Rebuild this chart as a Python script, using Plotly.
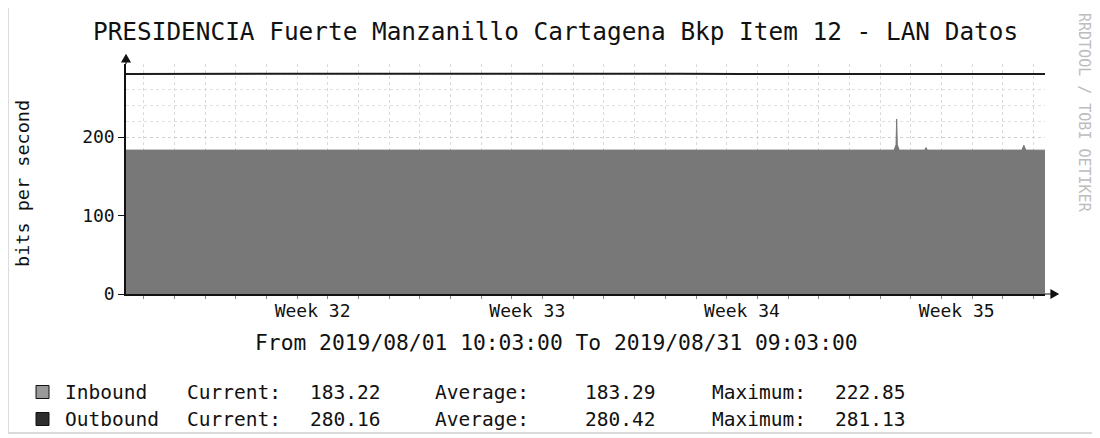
import plotly.graph_objects as go

# ---------------- data ----------------
title_text = "PRESIDENCIA Fuerte Manzanillo Cartagena Bkp Item 12 - LAN Datos"
range_text = "From 2019/08/01 10:03:00 To 2019/08/31 09:03:00"
y_title = "bits per second"
watermark = "RRDTOOL / TOBI OETIKER"

x_start = "2019-08-01 10:03"
x_end = "2019-08-31 09:03"

in_times = [
    "2019-08-01 10:03", "2019-08-02 12:00", "2019-08-03 12:00", "2019-08-04 12:00",
    "2019-08-05 12:00", "2019-08-06 12:00", "2019-08-07 12:00", "2019-08-08 12:00",
    "2019-08-09 12:00", "2019-08-10 12:00", "2019-08-11 12:00", "2019-08-12 12:00",
    "2019-08-13 12:00", "2019-08-14 12:00", "2019-08-15 12:00", "2019-08-16 12:00",
    "2019-08-17 12:00", "2019-08-18 12:00", "2019-08-19 12:00", "2019-08-20 12:00",
    "2019-08-21 12:00", "2019-08-22 12:00", "2019-08-23 12:00", "2019-08-24 12:00",
    "2019-08-25 12:00", "2019-08-26 11:00", "2019-08-26 12:30", "2019-08-26 13:00",
    "2019-08-26 13:30", "2019-08-26 15:00", "2019-08-27 11:00", "2019-08-27 12:00",
    "2019-08-27 13:00", "2019-08-28 12:00", "2019-08-29 12:00", "2019-08-30 15:00",
    "2019-08-30 16:30", "2019-08-30 18:00", "2019-08-31 09:03",
]
in_values = [
    183.3, 183.3, 183.2, 183.3, 183.3, 183.4, 183.3, 183.2,
    183.3, 183.3, 183.3, 183.2, 183.3, 183.3, 183.4, 183.3,
    183.3, 183.2, 183.3, 183.3, 183.3, 183.3, 183.2, 183.3,
    183.3, 183.3, 190.0, 222.85, 190.0, 183.3, 183.3, 186.5,
    183.3, 183.3, 183.3, 183.3, 189.5, 183.3, 183.22,
]

out_times = [
    "2019-08-01 10:03", "2019-08-03 12:00", "2019-08-05 12:00", "2019-08-07 12:00",
    "2019-08-09 12:00", "2019-08-11 12:00", "2019-08-13 12:00", "2019-08-15 12:00",
    "2019-08-17 12:00", "2019-08-19 12:00", "2019-08-21 12:00", "2019-08-22 10:00",
    "2019-08-22 12:00", "2019-08-22 14:00", "2019-08-25 12:00", "2019-08-27 12:00",
    "2019-08-29 12:00", "2019-08-31 09:03",
]
out_values = [
    280.4, 280.5, 280.4, 280.6, 280.4, 280.3, 280.5, 280.4,
    280.4, 280.5, 280.4, 280.4, 281.13, 280.4, 280.4, 280.3,
    280.4, 280.16,
]

week_vals = ["2019-08-07 12:00", "2019-08-14 12:00", "2019-08-21 12:00", "2019-08-28 12:00"]
week_text = ["Week 32", "Week 33", "Week 34", "Week 35"]
y_ticks = [0, 100, 200]

series_names = ["Inbound", "Outbound"]
series_current = ["183.22", "280.16"]
series_average = ["183.29", "280.42"]
series_maximum = ["222.85", "281.13"]
swatch_colors = ["#999999", "#2e2e2e"]

# ---------------- styles ----------------
FONT = "DejaVu Sans Mono"
FILL = "#787878"
LINE = "#1c1c1c"
PAGE_MARGIN = 8                      # default body margin of the html page
W_PX, H_PX = 1100 - PAGE_MARGIN, 438 - PAGE_MARGIN
# plot area in screenshot pixel coordinates
L, R, T, B = 126, 1045, 64, 294


def px_x(p):
    return (p - L) / (R - L)


def px_y(p):
    return (B - p) / (B - T)


fig = go.Figure()
fig.add_trace(go.Scatter(
    x=in_times, y=in_values, mode="lines", fill="tozeroy",
    fillcolor=FILL, line=dict(color=FILL, width=1), name=series_names[0],
    showlegend=False, hoverinfo="skip",
))
fig.add_trace(go.Scatter(
    x=out_times, y=out_values, mode="lines",
    line=dict(color=LINE, width=2), name=series_names[1],
    showlegend=False, hoverinfo="skip",
))

fig.update_layout(
    width=W_PX, height=H_PX,
    margin=dict(l=L - PAGE_MARGIN, r=(W_PX + PAGE_MARGIN) - R, t=T - PAGE_MARGIN,
                b=(H_PX + PAGE_MARGIN) - B, pad=0),
    paper_bgcolor="white", plot_bgcolor="white",
    font=dict(family=FONT, color="#111111"),
    xaxis=dict(
        type="date", range=[x_start, x_end],
        tickvals=week_vals, ticktext=week_text, ticks="",
        tickfont=dict(family=FONT, size=18, color="#111111"),
        showgrid=False, zeroline=False,
        showline=True, linecolor="#111111", linewidth=1.5,
        minor=dict(dtick=86400000, tick0="2019-08-02", showgrid=True,
                   gridcolor="#dadada", griddash="dot", gridwidth=1,
                   ticks="outside", ticklen=3, tickcolor="#888888"),
    ),
    yaxis=dict(
        range=[0, 293], tickvals=y_ticks, ticks="outside", ticklen=6,
        tickcolor="#111111", tickfont=dict(family=FONT, size=18, color="#111111"),
        showgrid=True, gridcolor="#d2d2d2", griddash="dot", gridwidth=1,
        zeroline=False, showline=True, linecolor="#111111", linewidth=1.5,
        minor=dict(dtick=20, showgrid=True, gridcolor="#e0e0e0", griddash="dot",
                   gridwidth=1),
    ),
)

annotations = [
    dict(text=title_text, x=px_x(555), y=px_y(32), xref="paper", yref="paper",
         showarrow=False, font=dict(family=FONT, size=24.4, color="#111111"),
         xanchor="center", yanchor="middle"),
    dict(text=range_text, x=px_x(556), y=px_y(342), xref="paper", yref="paper",
         showarrow=False, font=dict(family=FONT, size=21.3, color="#111111"),
         xanchor="center", yanchor="middle"),
    dict(text=y_title, x=px_x(22), y=px_y(184), xref="paper", yref="paper",
         showarrow=False, textangle=-90, font=dict(family=FONT, size=18.5, color="#111111"),
         xanchor="center", yanchor="middle"),
    dict(text=watermark, x=px_x(1084), y=px_y(113), xref="paper", yref="paper",
         showarrow=False, textangle=90, font=dict(family=FONT, size=15, color="#bdbdbd"),
         xanchor="center", yanchor="middle"),
]

row_y = [392, 419]
col_x = {"name": 63, "cur_l": 185, "cur": 308, "avg_l": 433, "avg": 583,
         "max_l": 710, "max": 833}
shapes = []
for i, name in enumerate(series_names):
    yy = px_y(row_y[i])
    items = [
        (name, col_x["name"]), ("Current:", col_x["cur_l"]), (series_current[i], col_x["cur"]),
        ("Average:", col_x["avg_l"]), (series_average[i], col_x["avg"]),
        ("Maximum:", col_x["max_l"]), (series_maximum[i], col_x["max"]),
    ]
    for txt, xp in items:
        annotations.append(dict(
            text=txt, x=px_x(xp), y=yy, xref="paper", yref="paper", showarrow=False,
            xanchor="left", yanchor="middle",
            font=dict(family=FONT, size=19.5, color="#111111"),
        ))
    shapes.append(dict(
        type="rect", xref="paper", yref="paper",
        x0=px_x(36), x1=px_x(49), y0=px_y(row_y[i] + 6.5), y1=px_y(row_y[i] - 6.5),
        fillcolor=swatch_colors[i], line=dict(color="#111111", width=1),
    ))

# axis arrows
shapes.append(dict(
    type="path", xref="paper", yref="paper", xsizemode="pixel", ysizemode="pixel",
    xanchor=0, yanchor=1,
    path="M 0,0 L 0,2 M -4,2 L 4,2 L 0,9 Z",
    fillcolor="#111111", line=dict(color="#111111", width=1.2),
))
shapes.append(dict(
    type="path", xref="paper", yref="paper", xsizemode="pixel", ysizemode="pixel",
    xanchor=1, yanchor=0,
    path="M 0,0 L 6,0 M 6,-4 L 6,4 L 13,0 Z",
    fillcolor="#111111", line=dict(color="#111111", width=1.2),
))
# faint outer frame
shapes.append(dict(
    type="rect", xref="paper", yref="paper",
    x0=px_x(8), x1=px_x(1095), y0=px_y(433), y1=px_y(5),
    line=dict(color="#cfcfcf", width=1.5), fillcolor="rgba(0,0,0,0)", layer="below",
))

fig.update_layout(annotations=annotations, shapes=shapes)
fig.write_html("out.html")
